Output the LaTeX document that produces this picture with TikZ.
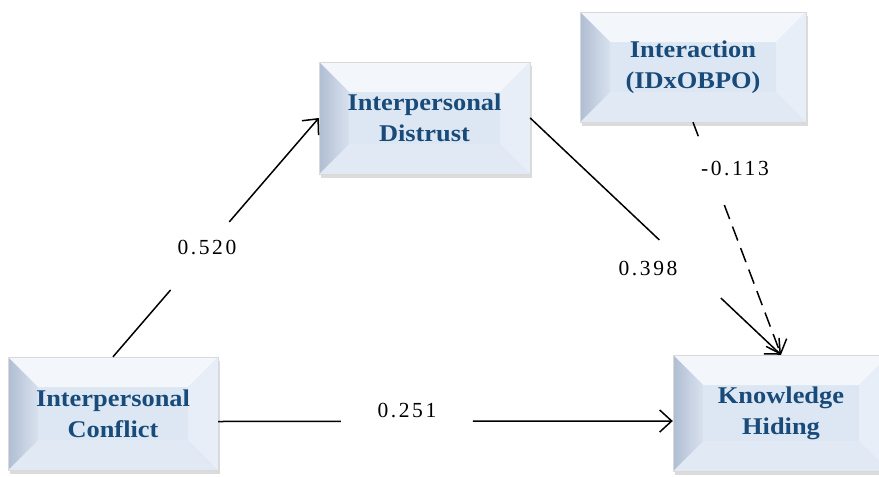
\documentclass[tikz,border=0pt]{standalone}
\usepackage{fontspec}
\setmainfont{Liberation Serif}
\newfontfamily\boxfont{Liberation Serif}[FakeStretch=1.1]
\newfontfamily\numfont{Liberation Serif}[LetterSpace=12]
\usetikzlibrary{calc,shadows,arrows.meta}
\definecolor{txtblue}{RGB}{24,75,122}
\definecolor{mainface}{RGB}{221,231,243}
\definecolor{topface}{RGB}{243,247,252}
\definecolor{leftout}{RGB}{176,190,210}
\definecolor{leftin}{RGB}{216,225,238}
\definecolor{rightface}{RGB}{231,238,248}
\definecolor{botface}{RGB}{225,233,244}
\newcommand{\bv}{30pt}
\tikzset{
  bevbox/.style={rectangle, fill=mainface, draw=black!15, line width=0.4pt,
    drop shadow={shadow xshift=1.5pt, shadow yshift=-3.5pt, fill=black, opacity=0.14},
    text=txtblue, font=\boxfont\bfseries\fontsize{24}{31}\selectfont, align=center,
    path picture={
      \coordinate (pnw) at (path picture bounding box.north west);
      \coordinate (pne) at (path picture bounding box.north east);
      \coordinate (psw) at (path picture bounding box.south west);
      \coordinate (pse) at (path picture bounding box.south east);
      \fill[topface] (pnw) -- (pne) -- ([shift={(-\bv,-\bv)}]pne) -- ([shift={(\bv,-\bv)}]pnw) -- cycle;
      \fill[botface] (psw) -- (pse) -- ([shift={(-\bv,\bv)}]pse) -- ([shift={(\bv,\bv)}]psw) -- cycle;
      \fill[rightface] (pne) -- (pse) -- ([shift={(-\bv,\bv)}]pse) -- ([shift={(-\bv,-\bv)}]pne) -- cycle;
      \shade[left color=leftout, right color=leftin] (pnw) -- (psw) -- ([shift={(\bv,\bv)}]psw) -- ([shift={(\bv,-\bv)}]pnw) -- cycle;
    }},
  conn/.style={line width=1.5pt, black},
  arr/.style={conn, -{Straight Barb[length=12pt,width=22pt,line width=1.5pt]}},
  num/.style={font=\numfont\fontsize{21.5}{24}\selectfont, text=black, inner sep=0pt}
}
\begin{document}
\begin{tikzpicture}[x=1pt,y=-1pt]
\useasboundingbox (0,0) rectangle (879,477);
\clip (0,0) rectangle (879,477);
\fill[white] (0,0) rectangle (879,477);
\node[bevbox, minimum width=211pt, minimum height=112pt] (D) at (424.5,118) {Interpersonal\\Distrust};
\node[bevbox, minimum width=226pt, minimum height=110pt] (I) at (693,67) {Interaction\\(IDxOBPO)};
\node[bevbox, minimum width=210pt, minimum height=113pt] (C) at (113,413.5) {Interpersonal\\Conflict};
\node[bevbox, minimum width=216pt, minimum height=116pt] (K) at (781,413) {Knowledge\\Hiding};
% Conflict -> Distrust
\draw[conn] (C.north) -- ($(C.north)!0.28!(D.west)$);
\draw[arr] ($(C.north)!0.565!(D.west)$) -- (D.west);
\node[num] (l1) at (207,247) {0.520};
% Distrust -> KH
\draw[conn] (D.east) -- ($(D.east)!0.515!(K.north)$);
\draw[arr] ($(D.east)!0.76!(K.north)$) -- (K.north);
\node[num] (l2) at (648,268) {0.398};
% Interaction -> KH
\draw[conn, dash pattern=on 15pt off 8pt] (I.south) -- ($(I.south)!0.077!(K.north)$);
\draw[arr, dash pattern=on 15pt off 8pt] ($(I.south)!0.356!(K.north)$) -- (K.north);
\node[num] (l3) at (735,168) {-0.113};
% Conflict -> KH
\coordinate (ce) at ([yshift=-8pt]C.east);
\coordinate (kw) at ([yshift=-8pt]K.west);
\draw[conn] (ce) -- ($(ce)!0.27!(kw)$);
\draw[arr] ($(ce)!0.56!(kw)$) -- (kw);
\node[num] (l4) at (407,410) {0.251};
\end{tikzpicture}
\end{document}
